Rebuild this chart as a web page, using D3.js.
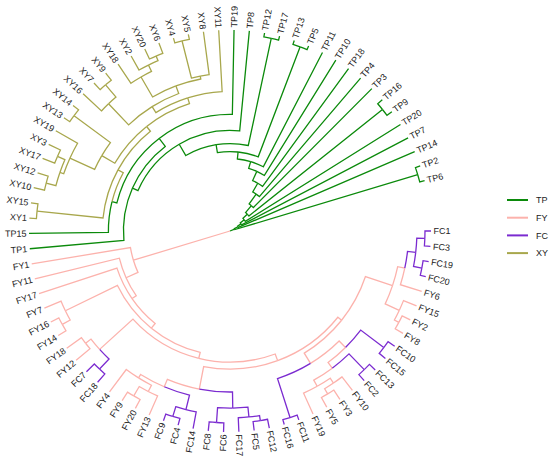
<!DOCTYPE html>
<html>
<head>
<meta charset="utf-8">
<script src="https://cdn.jsdelivr.net/npm/d3@7"></script>
<style>
  body { margin: 0; background: #fff; }
  text { font-family: "Liberation Sans", Arial, sans-serif; }
</style>
</head>
<body>
<svg width="550" height="460"></svg>
<script>
// groups and colours (legend order)
const groups = ["TP", "FY", "FC", "XY"];
const groupColors = ["#0b8a0b", "#fcb2ac", "#7b2bd0", "#a8a74c"];

// clades written newick-style; the number after ")" is the node depth
// (0 = root, 1 = tips)
const fcRight = "((((FC1,FC3)0.97,(FC19,FC20)0.972)0.93,FY6)0.889,(FY15,(FY2,FY8)0.955)0.93)0.853";
const fcMid = "(((FC10,FC15)0.96,((FC13,FC2)0.96,((FY10,(FY3,FY5)0.945)0.915,FY19)0.886)0.851)0.816,(FC11,FC16)0.975)0.771";
const fcBottom = "((((FC12,FC5)0.955,FC17)0.93,(FC6,FC8)0.955)0.881,((FC14,(FC4,FC9)0.965)0.915,((FY13,(FY20,FY9)0.95)0.896,FY4)0.861)0.841)0.801";
const fyLeft1 = "((FC18,FC7)0.945,(FY12,FY18)0.91)0.876";
const fyLeft2 = "((FY14,FY16)0.955,FY7)0.91";
const fyfcTree = `(((((((${fcRight},${fcMid})0.711,${fcBottom})0.687,${fyLeft1})0.652,${fyLeft2})0.622,FY17)0.592,FY11)0.567,FY1)0.502`;

const xyTree = "((XY1,XY15)0.965,(((((XY10,XY12)0.945,(XY17,XY3)0.935)0.895,XY19)0.875,(XY13,XY14)0.965)0.74," +
  "(((XY16,(XY7,XY9)0.955)0.875,((XY18,(XY2,(XY20,XY6)0.945)0.92)0.885,((XY4,XY5)0.975,XY8)0.785)0.77)0.73,XY11)0.695)0.665)0.635";
const tpTop = `((TP1,((TP15,${xyTree})0.605,TP19)0.58)0.53,TP8)0.5`;
// TP ladder, innermost split first: [side branch, node depth]
const tpLadder = [
  ["(TP12,TP17)0.98", 0.435], ["(TP13,TP5)0.98", 0.395], ["TP11", 0.36], ["TP10", 0.325],
  ["TP18", 0.275], ["TP4", 0.225], ["TP3", 0.165], ["(TP16,TP9)0.97", 0.12],
  ["TP20", 0.09], ["TP7", 0.065], ["TP14", 0.045], ["(TP2,TP6)0.975", 0.025]
];
const tpTree = tpLadder.reduce((acc, [side, d]) => `(${acc},${side})${d}`, tpTop);
const treeString = `(${fyfcTree},${tpTree})0`;

const svg = d3.select("svg");
const cx = 230, cy = 231, R = 201;
const nTips = 80;
const step = 345.5 / (nTips - 1);  // degrees between tips

function parseTree(s) {
  s = s.replace(/\s+/g, "");
  let i = 0;
  function node() {
    if (s[i] === "(") {
      i++;
      const children = [node()];
      while (s[i] === ",") { i++; children.push(node()); }
      i++;
      const m = /^[0-9.]+/.exec(s.slice(i));
      let depth = 0;
      if (m) { depth = +m[0]; i += m[0].length; }
      return {children, depth};
    }
    const m = /^[A-Za-z0-9]+/.exec(s.slice(i));
    i += m[0].length;
    return {name: m[0], depth: 1};
  }
  return node();
}

const root = d3.hierarchy(parseTree(treeString));
d3.cluster().size([nTips * step, 1]).separation(() => 1)(root);

const rScale = d3.scaleLinear().domain([0, 1]).range([0, R]);
const color = d3.scaleOrdinal().domain(groups).range(groupColors);

root.each(n => {
  n.a = n.x - step / 2;
  n.r = rScale(n.data.depth);
  const g = new Set(n.leaves().map(l => l.data.name.slice(0, 2)));
  n.group = g.size === 1 ? [...g][0] : (g.has("TP") ? "TP" : "FY");
});

const rad = a => a * Math.PI / 180;
const pt = (a, r) => [cx + r * Math.cos(rad(a)), cy + r * Math.sin(rad(a))];

function linkPath(p, c) {
  const path = d3.path();
  if (p.r > 0) {
    path.moveTo(...pt(p.a, p.r));
    path.arc(cx, cy, p.r, rad(p.a), rad(c.a), c.a < p.a);
  } else {
    path.moveTo(...pt(c.a, p.r));
  }
  path.lineTo(...pt(c.a, c.r));
  return path.toString();
}

svg.append("g")
  .selectAll("path")
  .data(root.links())
  .join("path")
  .attr("d", d => linkPath(d.source, d.target))
  .attr("fill", "none")
  .attr("stroke", d => color(d.target.group))
  .attr("stroke-width", 1.3);

// tip labels
svg.append("g")
  .selectAll("text")
  .data(root.leaves())
  .join("text")
  .attr("transform", d => {
    const [x, y] = pt(d.a, R + 2.5);
    const flip = d.a > 90 && d.a < 270;
    return `translate(${x},${y}) rotate(${flip ? d.a + 180 : d.a})`;
  })
  .attr("text-anchor", d => (d.a > 90 && d.a < 270) ? "end" : "start")
  .attr("dy", "0.35em")
  .attr("font-size", 9)
  .attr("fill", "#222")
  .text(d => d.data.name);

// legend
const legend = svg.append("g").attr("transform", "translate(507,200)");
const row = legend.selectAll("g")
  .data(groups)
  .join("g")
  .attr("transform", (d, i) => `translate(0,${i * 17.7})`);
row.append("line")
  .attr("x1", 0).attr("x2", 21)
  .attr("stroke", d => color(d))
  .attr("stroke-width", 2);
row.append("text")
  .attr("x", 29)
  .attr("dy", "0.35em")
  .attr("font-size", 9)
  .attr("fill", "#222")
  .text(d => d);
</script>
</body>
</html>
